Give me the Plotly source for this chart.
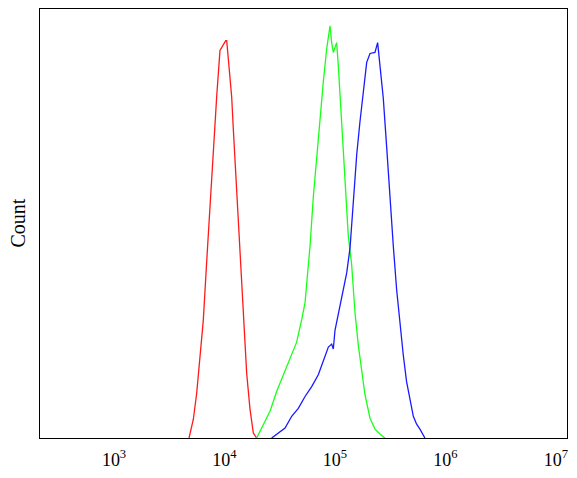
import plotly.graph_objects as go

# log10 fluorescence intensity and counts
red_log = [3.679, 3.718, 3.748, 3.778, 3.808, 3.839, 3.869, 3.899, 3.929, 3.959, 3.989,
           4.011, 4.020, 4.034, 4.065, 4.080, 4.110, 4.140, 4.170, 4.201, 4.231, 4.261, 4.291]
red_count = [0, 19, 45, 79, 119, 179, 235, 295, 345, 392, 397,
             402, 402, 382, 345, 312, 252, 185, 119, 65, 29, 5, 0]

green_log = [4.291, 4.351, 4.412, 4.472, 4.532, 4.593, 4.623, 4.653, 4.699, 4.729, 4.758,
             4.774, 4.804, 4.834, 4.864, 4.894, 4.925, 4.955, 4.970, 4.985, 5.015, 5.030,
             5.061, 5.090, 5.120, 5.151, 5.181, 5.211, 5.241, 5.271, 5.317, 5.362, 5.407, 5.452]
green_count = [0, 14, 27, 47, 64, 80, 89, 97, 120, 137, 174,
               194, 244, 284, 324, 360, 394, 417, 400, 390, 400, 377,
               318, 262, 205, 175, 127, 94, 67, 44, 20, 9, 4, 0]

blue_log = [4.427, 4.487, 4.548, 4.608, 4.668, 4.729, 4.789, 4.849, 4.894, 4.940, 4.970,
            4.985, 5.000, 5.030, 5.061, 5.106, 5.136, 5.166, 5.197, 5.226, 5.256, 5.287,
            5.317, 5.362, 5.386, 5.407, 5.437, 5.468, 5.498, 5.528, 5.558, 5.588, 5.618,
            5.648, 5.679, 5.709, 5.739, 5.769, 5.814]
blue_count = [0, 5, 10, 22, 30, 42, 52, 64, 77, 92, 95,
              90, 109, 125, 142, 167, 192, 240, 287, 320, 350, 380,
              389, 390, 400, 377, 344, 294, 240, 194, 150, 114, 84,
              57, 37, 22, 14, 9, 0]

tick_vals = [1e3, 1e4, 1e5, 1e6, 1e7]
tick_text = ["10<sup>3</sup>", "10<sup>4</sup>", "10<sup>5</sup>", "10<sup>6</sup>", "10<sup>7</sup>"]

fig = go.Figure()
for lg, ct, col in [(red_log, red_count, "#ff1a1a"),
                    (green_log, green_count, "#1aff1a"),
                    (blue_log, blue_count, "#1a1aff")]:
    fig.add_trace(go.Scatter(x=[10 ** v for v in lg], y=ct, mode="lines",
                             line=dict(color=col, width=1.3), showlegend=False,
                             hoverinfo="skip"))

fig.update_layout(
    width=577, height=478,
    margin=dict(l=40, r=10, t=8, b=36),
    paper_bgcolor="white", plot_bgcolor="white",
    font=dict(family="Liberation Serif, serif", color="black", size=18),
)
fig.update_xaxes(type="log", range=[2.330, 7.100], tickvals=tick_vals, ticktext=tick_text,
                 showgrid=False, zeroline=False, showline=True, mirror=True,
                 linecolor="black", linewidth=1, ticks="", tickfont=dict(size=18),
                 ticklabelstandoff=5)
fig.update_yaxes(range=[0, 434], showticklabels=False, showgrid=False, zeroline=False,
                 showline=True, mirror=True, linecolor="black", linewidth=1, ticks="")
fig.add_annotation(text="Count", xref="paper", yref="paper", x=0, y=0.5,
                   xshift=-23, textangle=-90, showarrow=False,
                   font=dict(size=20, family="Liberation Serif, serif", color="black"),
                   xanchor="center", yanchor="middle")

fig.write_html("out.html", config={"displayModeBar": False},
               post_script="document.body.style.margin='0';")
